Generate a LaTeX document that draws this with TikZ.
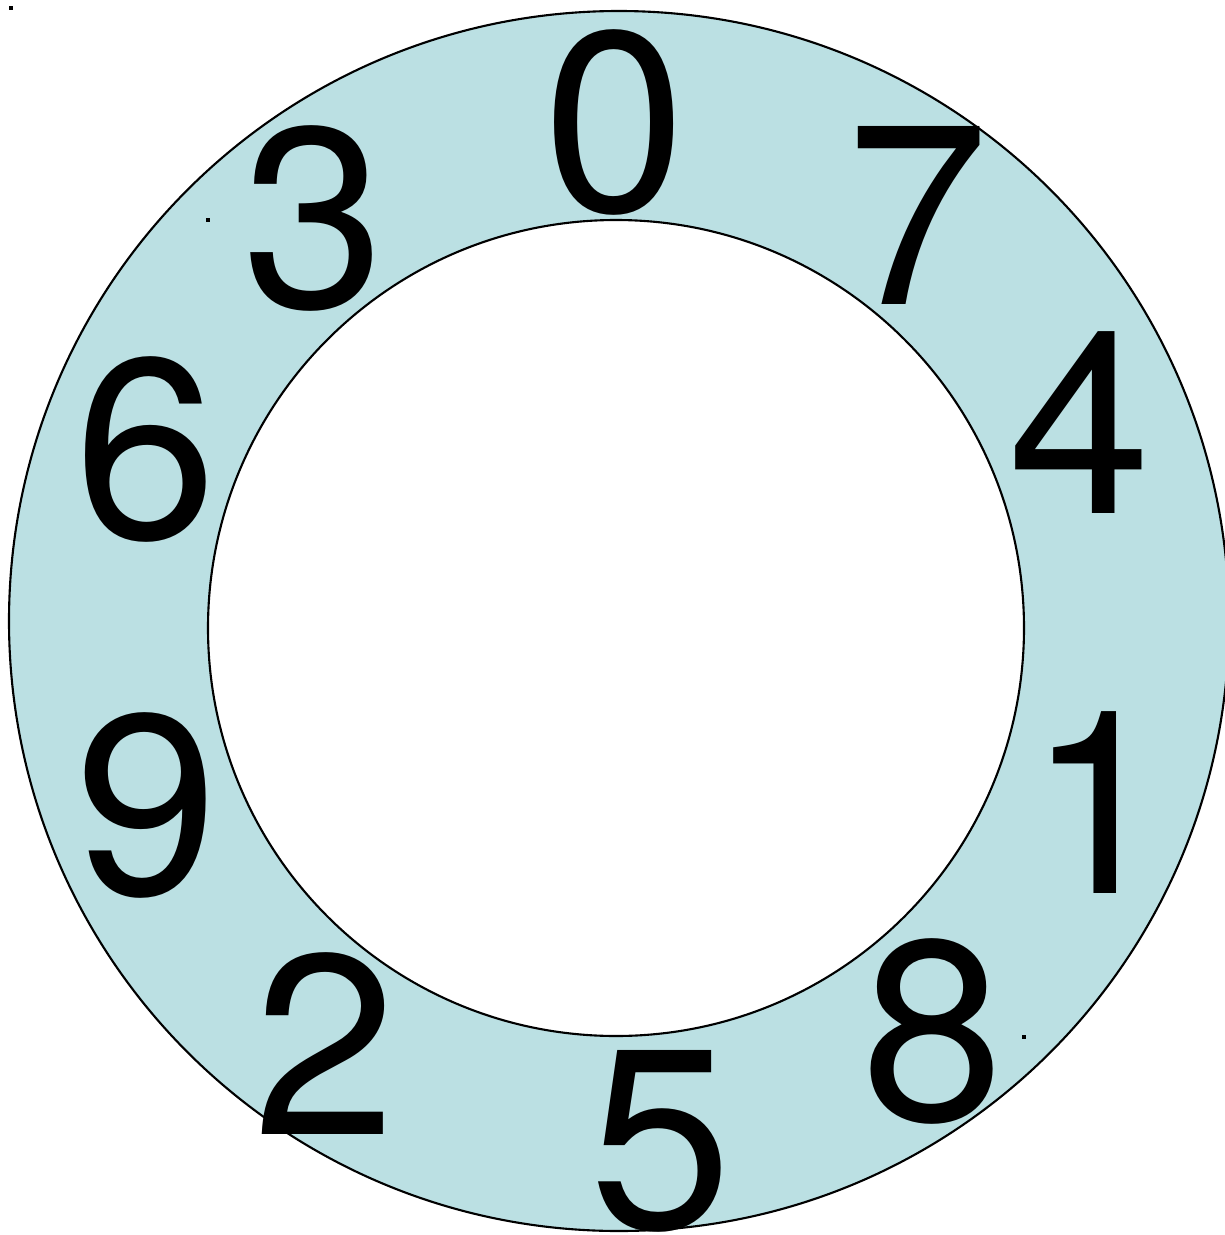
\documentclass[tikz,border=0pt]{standalone}
\usepackage{fontspec}
\setmainfont{TeX Gyre Heros}
\usepackage{tikz}
\usetikzlibrary{positioning}
\definecolor{ringblue}{HTML}{BBE0E3}

\begin{document}
\begin{tikzpicture}[
    ring/.style={draw=black, line width=0.6pt},
    digit/.style={inner sep=0pt, anchor=center, font=\fontsize{73}{73}\selectfont},
    speck/.style={fill=black, inner sep=0pt, minimum size=1.1pt}]
    % Frame of the picture
    \useasboundingbox (0,0) rectangle (12.25,-12.35);
    \clip (0,0) rectangle (12.25,-12.35);

    % Ring: outer disc, then the white hole
    \filldraw[ring, fill=ringblue] (6.19,-6.21) circle (6.10);
    \filldraw[ring, fill=white] (6.16,-6.28) circle (4.08);

    % Small marks
    \node[speck] (m1) at (0.11,-0.08) {};
    \node[speck] (m2) at (2.08,-2.20) {};
    \node[speck] (m3) at (10.24,-10.37) {};

    % Digits round the ring
    \foreach \d/\x/\y in {0/6.15/1.22, 7/9.18/2.15, 4/10.80/4.23, 1/10.99/8.03,
        8/9.33/10.31, 5/6.61/11.41, 2/3.25/10.44, 9/1.47/8.05, 6/1.46/4.49, 3/3.14/2.18}
        \node[digit] (n\d) at (\x,-\y) {\d};
\end{tikzpicture}
\end{document}
